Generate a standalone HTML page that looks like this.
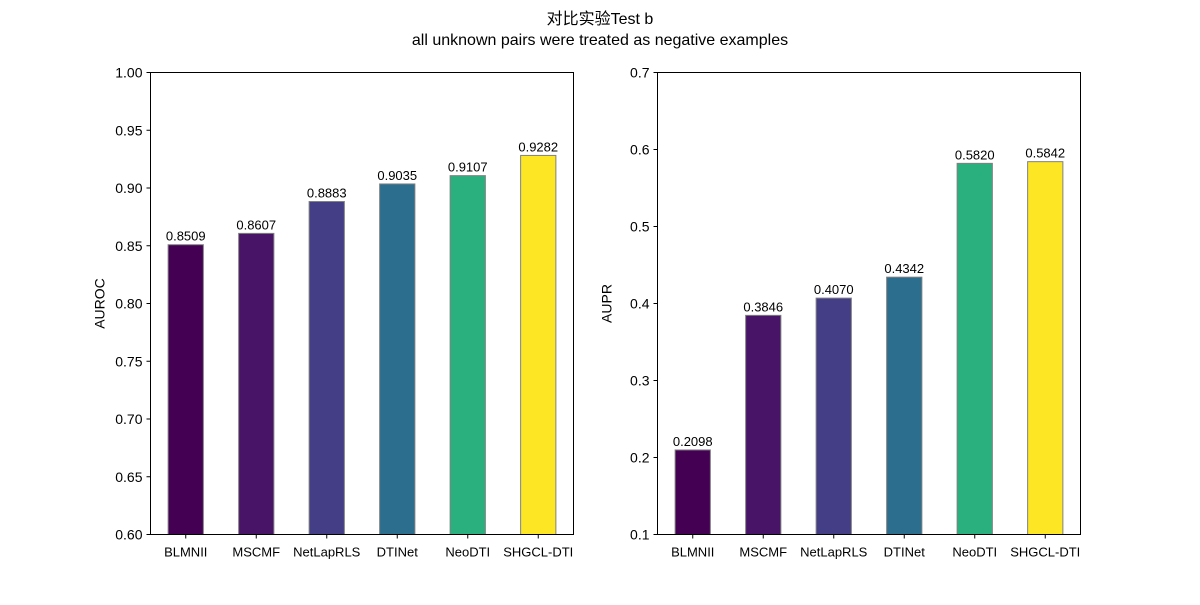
<!DOCTYPE html>
<html><head><meta charset="utf-8">
<style>
body{margin:0;background:#fff;}
svg text{font-family:"Liberation Sans","Noto Sans CJK SC",sans-serif;fill:#000;}
</style></head>
<body>
<svg id="chart" width="1200" height="600" xmlns="http://www.w3.org/2000/svg">
<text x="600" y="24" text-anchor="middle" font-size="16">对比实验Test b</text>
<text x="600" y="45" text-anchor="middle" font-size="16">all unknown pairs were treated as negative examples</text>
</svg>
<script>
const categories=["BLMNII","MSCMF","NetLapRLS","DTINet","NeoDTI","SHGCL-DTI"];
const aurocValues=[0.8509,0.8607,0.8883,0.9035,0.9107,0.9282];
const auprValues=[0.2098,0.3846,0.4070,0.4342,0.5820,0.5842];
const aurocTicks=[0.60,0.65,0.70,0.75,0.80,0.85,0.90,0.95,1.00];
const auprTicks=[0.1,0.2,0.3,0.4,0.5,0.6,0.7];
const colors=["#440154","#481467","#433e85","#2c6e8e","#2ab07f","#fde725"];
const svg=document.getElementById('chart');
const NS="http://www.w3.org/2000/svg";
function mk(tag,attrs,parent){const e=document.createElementNS(NS,tag);for(const k in attrs)e.setAttribute(k,attrs[k]);(parent||svg).appendChild(e);return e;}
function panel(prefix,x0,x1,y0,y1,vmin,vmax,values,ticks,dec,label){
  const g=mk('g',{});
  
  
  const ys=v=>y1-(v-vmin)/(vmax-vmin)*(y1-y0);
  const step=(x1-x0)/categories.length;
  const xs=i=>x0+step*(i+0.5);
  values.forEach((v,i)=>{
    const r=mk('rect',{x:xs(i)-step*0.25,y:ys(v),width:step*0.5,height:y1-ys(v),fill:colors[i],stroke:'#808080','stroke-width':1},g);
    
    
    const t=mk('text',{x:xs(i),y:ys(v)-4,'text-anchor':'middle','font-size':13},g);
    t.textContent=v.toFixed(4);
    
    
    const tl=mk('text',{x:xs(i),y:y1+22,'text-anchor':'middle','font-size':13},g);
    tl.textContent=categories[i];
    
    
    mk('line',{x1:xs(i),x2:xs(i),y1:y1,y2:y1+4,stroke:'#000'},g);
  });
  ticks.forEach(t=>{
    mk('line',{x1:x0-4,x2:x0,y1:ys(t),y2:ys(t),stroke:'#000'},g);
    const tt=mk('text',{x:x0-8,y:ys(t)+5,'text-anchor':'end','font-size':14},g);
    tt.textContent=t.toFixed(dec);
    
    
  });
  const fr=mk('rect',{x:x0,y:y0,width:x1-x0,height:y1-y0,fill:'none',stroke:'#000','stroke-width':1},g);
  
  
  const yl=mk('text',{x:0,y:0,'text-anchor':'middle','font-size':14,transform:`translate(${x0-46},${(y0+y1)/2}) rotate(-90)`},g);
  yl.textContent=label;
  
  
}
panel('auroc',150.5,573.5,72.5,534.5,0.6,1.0,aurocValues,aurocTicks,2,'AUROC');
panel('aupr',657.5,1080.5,72.5,534.5,0.1,0.7,auprValues,auprTicks,1,'AUPR');
</script>
</body></html>
